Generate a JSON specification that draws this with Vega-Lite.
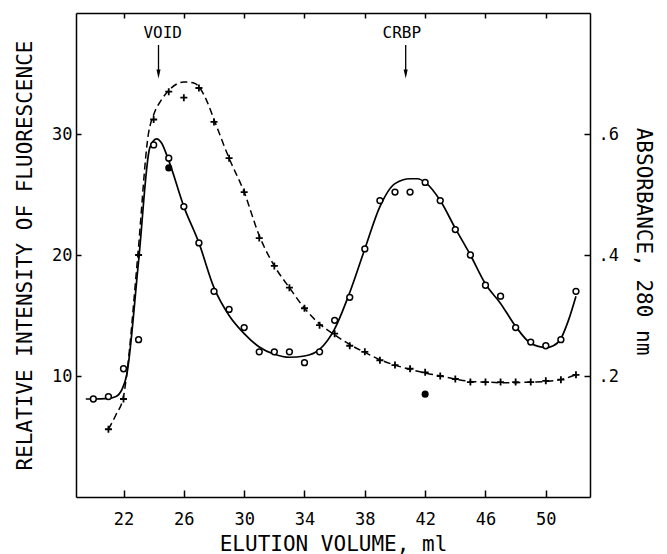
{
  "$schema": "https://vega.github.io/schema/vega-lite/v6.json",
  "width": 514,
  "height": 484,
  "autosize": {"type": "none"},
  "padding": {"left": 76, "top": 13, "right": 77, "bottom": 57},
  "background": "white",
  "config": {
    "view": {"stroke": null},
    "font": "DejaVu Sans Mono",
    "axis": {
      "grid": false,
      "domainColor": "black",
      "domainWidth": 1.5,
      "tickColor": "black",
      "tickWidth": 1.5,
      "labelColor": "black",
      "labelFont": "DejaVu Sans Mono",
      "labelFontSize": 17,
      "titleColor": "black",
      "titleFont": "DejaVu Sans Mono",
      "titleFontSize": 21,
      "titleFontWeight": "normal"
    }
  },
  "datasets": {
    "fluorCurve": [
      {"v": 19.5, "f": 8.1}, {"v": 20, "f": 8.1}, {"v": 21, "f": 8.15}, {"v": 21.5, "f": 8.3},
      {"v": 21.9, "f": 8.9}, {"v": 22.2, "f": 10.0}, {"v": 23.0, "f": 19.5}, {"v": 23.75, "f": 28.9},
      {"v": 24.2, "f": 29.6}, {"v": 24.5, "f": 29.3}, {"v": 25, "f": 27.8}, {"v": 26, "f": 24.0},
      {"v": 27, "f": 21.0}, {"v": 28, "f": 17.3}, {"v": 29, "f": 15.0}, {"v": 30, "f": 13.5},
      {"v": 31, "f": 12.4}, {"v": 32, "f": 11.8}, {"v": 33, "f": 11.55}, {"v": 34, "f": 11.65},
      {"v": 35, "f": 12.2}, {"v": 36, "f": 13.9}, {"v": 37, "f": 16.9}, {"v": 38, "f": 20.5},
      {"v": 39, "f": 24.0}, {"v": 40, "f": 25.9}, {"v": 41, "f": 26.3}, {"v": 41.5, "f": 26.3},
      {"v": 42, "f": 26.0}, {"v": 43, "f": 24.5}, {"v": 44, "f": 22.2}, {"v": 45, "f": 20.0},
      {"v": 46, "f": 17.6}, {"v": 47, "f": 16.0}, {"v": 48, "f": 14.1}, {"v": 49, "f": 12.7},
      {"v": 50, "f": 12.35}, {"v": 50.5, "f": 12.5}, {"v": 51, "f": 13.1}, {"v": 51.5, "f": 14.6},
      {"v": 52, "f": 16.6}
    ],
    "fluorPoints": [
      {"v": 20, "f": 8.1}, {"v": 21, "f": 8.3}, {"v": 22, "f": 10.6}, {"v": 23, "f": 13.0},
      {"v": 24, "f": 29.1}, {"v": 25, "f": 28.0}, {"v": 26, "f": 24.0}, {"v": 27, "f": 21.0},
      {"v": 28, "f": 17.0}, {"v": 29, "f": 15.5}, {"v": 30, "f": 14.0}, {"v": 31, "f": 12.0},
      {"v": 32, "f": 12.0}, {"v": 33, "f": 12.0}, {"v": 34, "f": 11.1}, {"v": 35, "f": 12.0},
      {"v": 36, "f": 14.6}, {"v": 37, "f": 16.5}, {"v": 38, "f": 20.5}, {"v": 39, "f": 24.5},
      {"v": 40, "f": 25.2}, {"v": 41, "f": 25.2}, {"v": 42, "f": 26.0}, {"v": 43, "f": 24.5},
      {"v": 44, "f": 22.1}, {"v": 45, "f": 20.0}, {"v": 46, "f": 17.5}, {"v": 47, "f": 16.6},
      {"v": 48, "f": 14.0}, {"v": 49, "f": 12.8}, {"v": 50, "f": 12.5}, {"v": 51, "f": 13.0},
      {"v": 52, "f": 17.0}
    ],
    "filledPoints": [
      {"v": 25, "f": 27.2}, {"v": 42, "f": 8.5}
    ],
    "absCurve": [
      {"v": 21, "a": 0.112}, {"v": 21.5, "a": 0.136}, {"v": 22, "a": 0.166}, {"v": 22.2, "a": 0.2},
      {"v": 22.95, "a": 0.4}, {"v": 23.65, "a": 0.6}, {"v": 24, "a": 0.632}, {"v": 24.5, "a": 0.656},
      {"v": 25, "a": 0.672}, {"v": 26, "a": 0.686}, {"v": 26.7, "a": 0.684}, {"v": 27, "a": 0.678},
      {"v": 27.5, "a": 0.656}, {"v": 28, "a": 0.624}, {"v": 29, "a": 0.56}, {"v": 30, "a": 0.504},
      {"v": 31, "a": 0.432}, {"v": 32, "a": 0.382}, {"v": 33, "a": 0.346}, {"v": 34, "a": 0.312},
      {"v": 35, "a": 0.286}, {"v": 36, "a": 0.268}, {"v": 37, "a": 0.252}, {"v": 38, "a": 0.239},
      {"v": 39, "a": 0.227}, {"v": 40, "a": 0.218}, {"v": 41, "a": 0.211}, {"v": 42, "a": 0.205},
      {"v": 43, "a": 0.2}, {"v": 44, "a": 0.195}, {"v": 45, "a": 0.191}, {"v": 46, "a": 0.19},
      {"v": 47, "a": 0.189}, {"v": 48, "a": 0.189}, {"v": 49, "a": 0.19}, {"v": 50, "a": 0.191},
      {"v": 51, "a": 0.194}, {"v": 52, "a": 0.202}
    ],
    "absPoints": [
      {"v": 21, "a": 0.112}, {"v": 22, "a": 0.162}, {"v": 23, "a": 0.4}, {"v": 24, "a": 0.624},
      {"v": 25, "a": 0.67}, {"v": 26, "a": 0.66}, {"v": 27, "a": 0.676}, {"v": 28, "a": 0.62},
      {"v": 29, "a": 0.56}, {"v": 30, "a": 0.504}, {"v": 31, "a": 0.428}, {"v": 32, "a": 0.382},
      {"v": 33, "a": 0.346}, {"v": 34, "a": 0.312}, {"v": 35, "a": 0.284}, {"v": 36, "a": 0.27},
      {"v": 37, "a": 0.25}, {"v": 38, "a": 0.24}, {"v": 39, "a": 0.226}, {"v": 40, "a": 0.218},
      {"v": 41, "a": 0.212}, {"v": 42, "a": 0.206}, {"v": 43, "a": 0.2}, {"v": 44, "a": 0.195},
      {"v": 45, "a": 0.19}, {"v": 46, "a": 0.19}, {"v": 47, "a": 0.19}, {"v": 48, "a": 0.19},
      {"v": 49, "a": 0.19}, {"v": 50, "a": 0.192}, {"v": 51, "a": 0.194}, {"v": 52, "a": 0.202}
    ],
    "markers": [
      {"label": "VOID", "xt": 24.6, "xa": 24.32, "yt": 38.35, "y1": 37.36, "y2": 34.95},
      {"label": "CRBP", "xt": 40.45, "xa": 40.71, "yt": 38.35, "y1": 37.36, "y2": 34.95}
    ]
  },
  "resolve": {"scale": {"x": "independent", "y": "independent"}},
  "layer": [
    {
      "data": {"name": "fluorCurve"},
      "mark": {"type": "line", "interpolate": "monotone", "color": "black", "strokeWidth": 1.7},
      "encoding": {
        "x": {"field": "v", "type": "quantitative", "scale": {"domain": [18.85, 52.93], "nice": false, "zero": false},
          "axis": {"orient": "bottom", "values": [22, 26, 30, 34, 38, 42, 46, 50], "tickSize": -7, "labelPadding": 21,
            "title": "ELUTION VOLUME, ml", "titleX": 257, "titleY": 47, "titleAlign": "center", "titleBaseline": "middle"}},
        "y": {"field": "f", "type": "quantitative", "scale": {"domain": [0, 40], "nice": false},
          "axis": {"orient": "left", "values": [10, 20, 30], "tickSize": -5, "labelPadding": 9,
            "title": "RELATIVE INTENSITY OF FLUORESCENCE", "titleX": -51, "titleY": 242, "titleAngle": -90,
            "titleAlign": "center", "titleBaseline": "middle"}}
      }
    },
    {
      "data": {"name": "fluorPoints"},
      "mark": {"type": "point", "shape": "circle", "filled": true, "fill": "white", "stroke": "black", "strokeWidth": 1.5, "size": 34, "opacity": 1},
      "encoding": {
        "x": {"field": "v", "type": "quantitative", "scale": {"domain": [18.85, 52.93], "nice": false, "zero": false},
          "axis": {"orient": "top", "values": [22, 26, 30, 34, 38, 42, 46, 50], "tickSize": -5, "labels": false, "title": null}},
        "y": {"field": "f", "type": "quantitative", "scale": {"domain": [0, 40], "nice": false}, "axis": null}
      }
    },
    {
      "data": {"name": "filledPoints"},
      "mark": {"type": "point", "shape": "circle", "filled": true, "fill": "black", "size": 50, "opacity": 1},
      "encoding": {
        "x": {"field": "v", "type": "quantitative", "scale": {"domain": [18.85, 52.93], "nice": false, "zero": false}, "axis": null},
        "y": {"field": "f", "type": "quantitative", "scale": {"domain": [0, 40], "nice": false}, "axis": null}
      }
    },
    {
      "data": {"name": "absCurve"},
      "mark": {"type": "line", "interpolate": "monotone", "color": "black", "strokeWidth": 1.5, "strokeDash": [7, 4]},
      "encoding": {
        "x": {"field": "v", "type": "quantitative", "scale": {"domain": [18.85, 52.93], "nice": false, "zero": false}, "axis": null},
        "y": {"field": "a", "type": "quantitative", "scale": {"domain": [0, 0.8], "nice": false},
          "axis": {"orient": "right", "values": [0.2, 0.4, 0.6], "tickSize": -6, "labelPadding": 14,
            "labelExpr": "replace(format(datum.value, '.1f'), '0.', '.')",
            "title": "ABSORBANCE, 280 nm", "titleX": 52, "titleY": 228, "titleAngle": 90,
            "titleAlign": "center", "titleBaseline": "middle"}}
      }
    },
    {
      "data": {"name": "absPoints"},
      "mark": {"type": "point", "shape": "M-1,0L1,0M0,-1L0,1", "filled": false, "stroke": "black", "strokeWidth": 1.8, "size": 49, "opacity": 1},
      "encoding": {
        "x": {"field": "v", "type": "quantitative", "scale": {"domain": [18.85, 52.93], "nice": false, "zero": false}, "axis": null},
        "y": {"field": "a", "type": "quantitative", "scale": {"domain": [0, 0.8], "nice": false}, "axis": null}
      }
    },
    {
      "data": {"name": "markers"},
      "mark": {"type": "text", "fontSize": 16, "font": "DejaVu Sans Mono", "color": "black", "align": "center", "baseline": "middle"},
      "encoding": {
        "x": {"field": "xt", "type": "quantitative", "scale": {"domain": [18.85, 52.93], "nice": false, "zero": false}, "axis": null},
        "y": {"field": "yt", "type": "quantitative", "scale": {"domain": [0, 40], "nice": false}, "axis": null},
        "text": {"field": "label"}
      }
    },
    {
      "data": {"name": "markers"},
      "mark": {"type": "rule", "color": "black", "strokeWidth": 1.3},
      "encoding": {
        "x": {"field": "xa", "type": "quantitative", "scale": {"domain": [18.85, 52.93], "nice": false, "zero": false}, "axis": null},
        "y": {"field": "y1", "type": "quantitative", "scale": {"domain": [0, 40], "nice": false}, "axis": null},
        "y2": {"field": "y2"}
      }
    },
    {
      "data": {"name": "markers"},
      "mark": {"type": "point", "shape": "M-0.45,-1L0,1L0.45,-1Z", "filled": true, "fill": "black", "size": 81, "opacity": 1},
      "encoding": {
        "x": {"field": "xa", "type": "quantitative", "scale": {"domain": [18.85, 52.93], "nice": false, "zero": false}, "axis": null},
        "y": {"field": "y2", "type": "quantitative", "scale": {"domain": [0, 40], "nice": false}, "axis": null}
      }
    }
  ]
}
